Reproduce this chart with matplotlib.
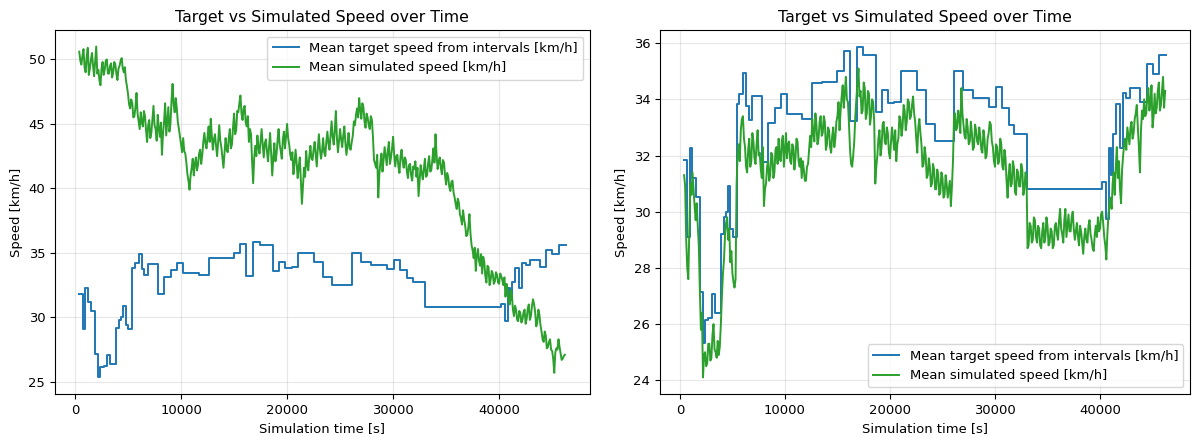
import numpy as np
import matplotlib
matplotlib.use("Agg")
import matplotlib.pyplot as plt

# target speed steps (time [s], value [km/h]) - same in both panels
target_t = [400, 720, 945, 1190, 1510, 1890, 2170, 2390, 2710, 3020,
            3340, 3880, 4190, 4350, 4540, 4790, 5040, 5390, 5670, 5990,
            6300, 6550, 6870, 7810, 8380, 9010, 9610, 10180, 11660, 12600,
            13490, 15000, 15600, 16170, 16830, 17430, 18630, 19220, 19790, 20420,
            21050, 22530, 23420, 24270, 26100, 26980, 27920, 29470, 30070, 30670,
            31300, 31830, 33030, 40190, 40530, 40810, 41070, 41230, 41480, 41900,
            42170, 42490, 42870, 43810, 44440, 45010, 45640, 46270]
target_v = [31.83, 29.09, 32.25, 31.20, 30.53, 27.13, 25.34, 26.15, 26.20, 27.07,
            26.39, 29.21, 29.81, 30.00, 30.91, 29.39, 29.09, 33.83, 34.18, 34.93,
            33.77, 33.25, 34.12, 31.78, 33.14, 33.68, 34.19, 33.47, 33.29, 34.57,
            34.60, 35.01, 35.72, 33.22, 35.88, 35.58, 33.56, 34.33, 33.86, 33.90,
            35.01, 34.33, 33.11, 32.51, 35.01, 34.33, 34.06, 33.74, 34.45, 33.70,
            33.08, 32.76, 30.80, 31.06, 29.73, 32.27, 31.32, 32.75, 33.82, 32.27,
            34.21, 34.04, 34.41, 33.91, 35.25, 34.89, 35.58, 35.58]

# simulated speed, sampled every 100 s starting at 400 s (one row = 2000 s)
sim_t0 = 400
sim_dt = 100

# left panel run
sim_left = [
    50.6, 49.9, 49.6, 50.3, 50.8, 49.4, 49.0, 50.2, 50.9, 48.8, 49.3, 50.0, 50.5, 49.5, 48.7, 49.9, 51.0, 48.9, 49.2, 48.4,  # 400
    48.0, 49.3, 49.8, 48.8, 49.2, 49.9, 50.0, 48.9, 48.9, 49.5, 49.7, 48.6, 49.0, 49.8, 49.6, 48.9, 48.4, 49.3, 49.5, 49.9,  # 2400
    50.1, 49.3, 49.0, 49.4, 48.4, 47.9, 47.3, 46.5, 46.2, 46.9, 46.6, 45.5, 45.6, 46.3, 47.4, 45.8, 45.2, 44.6, 45.9, 45.1,  # 4400
    44.8, 46.0, 45.6, 44.5, 43.6, 44.9, 45.3, 43.9, 44.3, 45.4, 46.4, 44.9, 44.6, 43.7, 45.7, 44.6, 44.0, 45.1, 42.6, 44.3,  # 6400
    45.2, 46.6, 44.1, 45.2, 46.3, 44.4, 45.0, 46.8, 48.1, 46.5, 45.9, 47.0, 46.2, 45.1, 44.6, 44.0, 43.4, 42.8, 43.9, 42.9,  # 8400
    42.7, 42.0, 41.1, 40.6, 39.9, 41.0, 41.6, 42.3, 41.0, 41.9, 42.4, 41.4, 41.8, 42.7, 43.0, 41.9, 42.6, 43.6, 44.3, 43.5,  # 10400
    43.1, 44.0, 44.8, 43.6, 45.4, 44.1, 43.0, 43.8, 44.2, 43.3, 42.5, 43.6, 44.9, 43.7, 43.2, 42.4, 41.6, 42.7, 43.9, 43.0,  # 12400
    42.8, 43.9, 44.6, 43.1, 43.4, 44.7, 45.8, 44.2, 44.5, 46.0, 45.9, 46.6, 47.2, 45.8, 45.3, 46.2, 46.4, 45.1, 44.8, 45.6,  # 14400
    43.6, 44.6, 44.2, 42.1, 40.4, 42.4, 43.3, 42.5, 44.1, 43.2, 42.7, 43.7, 44.6, 43.4, 42.4, 43.5, 43.8, 42.9, 42.1, 43.2,  # 16400
    44.3, 42.7, 41.0, 42.4, 43.5, 42.1, 42.6, 43.7, 44.6, 43.4, 42.9, 42.3, 43.8, 44.4, 43.1, 44.0, 45.0, 43.9, 43.4, 42.6,  # 18400
    42.2, 42.8, 41.1, 41.9, 43.0, 42.0, 40.8, 41.7, 42.4, 40.6, 38.8, 40.2, 41.6, 40.9, 42.9, 41.8, 41.4, 42.5, 43.3, 42.3,  # 20400
    42.2, 43.0, 43.6, 42.6, 41.7, 43.1, 44.2, 43.0, 42.3, 42.9, 43.9, 42.8, 42.5, 43.6, 44.4, 43.5, 43.0, 44.1, 45.2, 44.0,  # 22400
    43.4, 44.5, 46.0, 43.9, 42.8, 43.7, 44.6, 43.8, 43.2, 44.1, 44.8, 43.5, 42.6, 43.4, 44.3, 43.1, 43.0, 43.6, 44.1, 45.2,  # 24400
    44.9, 45.7, 46.2, 45.5, 47.0, 46.1, 45.4, 46.6, 46.3, 45.2, 44.7, 45.8, 45.5, 44.9, 44.6, 45.6, 45.3, 44.0, 42.2, 41.9,  # 26400
    41.6, 42.6, 39.3, 41.1, 42.0, 42.7, 41.3, 42.2, 43.2, 42.5, 41.8, 42.9, 43.6, 41.9, 42.4, 43.1, 44.0, 42.6, 41.7, 42.5,  # 28400
    42.6, 41.7, 41.2, 42.5, 43.0, 42.1, 41.6, 42.4, 42.2, 41.3, 40.8, 41.8, 41.9, 41.0, 40.6, 41.7, 41.5, 42.1, 40.9, 41.6,  # 30400
    39.4, 40.6, 41.8, 41.2, 40.7, 41.5, 42.3, 40.9, 41.0, 41.9, 42.5, 41.3, 41.4, 42.2, 43.1, 42.0, 44.2, 42.6, 41.5, 42.1,  # 32400
    42.4, 41.6, 41.1, 42.2, 42.0, 41.0, 40.3, 41.2, 40.9, 40.1, 39.8, 40.5, 40.6, 39.7, 39.3, 38.8, 38.4, 39.2, 38.9, 38.0,  # 34400
    37.7, 37.2, 38.3, 37.6, 37.1, 36.3, 36.4, 37.0, 38.0, 36.5, 35.6, 35.2, 34.6, 35.4, 33.6, 34.8, 35.3, 34.4, 34.0, 34.9,  # 36400
    33.4, 34.7, 34.3, 33.2, 32.7, 34.0, 33.9, 32.5, 32.9, 33.6, 33.4, 32.6, 32.8, 33.5, 33.3, 32.7, 32.6, 33.4, 33.2, 32.9,  # 38400
    32.5, 33.1, 31.6, 32.6, 32.2, 31.3, 31.0, 32.1, 31.8, 30.6, 30.1, 30.9, 30.6, 29.8, 29.7, 30.5, 30.3, 29.6, 29.8, 30.4,  # 40400
    30.6, 29.5, 29.9, 30.7, 31.0, 29.8, 30.1, 30.9, 31.4, 31.0, 30.4, 29.3, 29.6, 30.6, 30.2, 29.4, 28.9, 28.3, 28.1, 28.9,  # 42400
    28.6, 27.6, 27.7, 28.1, 28.3, 27.5, 27.4, 26.8, 25.7, 27.3, 27.6, 27.5, 28.3, 27.7, 27.2, 26.7, 26.8, 27.0, 27.1,        # 44400
]

# right panel run
sim_right = [
    31.3, 30.9, 29.0, 28.0, 27.6, 29.4, 31.0, 30.6, 31.4, 30.8, 30.2, 29.7, 30.3, 29.5, 28.8, 27.2, 25.8, 26.4, 24.1, 24.9,  # 400
    25.0, 24.5, 24.6, 25.3, 25.3, 24.7, 24.8, 25.6, 26.0, 25.1, 25.0, 24.8, 25.4, 24.9, 25.2, 26.0, 27.0, 27.8, 28.3, 29.2,  # 2400
    29.6, 29.8, 29.0, 29.4, 28.2, 28.6, 27.8, 27.5, 27.3, 27.6, 31.0, 32.1, 32.4, 31.8, 32.9, 33.3, 33.4, 32.6, 32.3, 31.6,  # 4400
    31.4, 32.2, 32.6, 31.6, 31.8, 32.8, 32.5, 31.9, 31.7, 32.4, 32.9, 32.0, 32.1, 31.5, 31.2, 32.3, 30.2, 30.8, 31.0, 31.6,  # 6400
    31.8, 31.1, 31.3, 32.1, 32.0, 31.2, 31.4, 32.2, 32.3, 31.7, 32.6, 31.9, 31.8, 32.5, 32.7, 31.6, 32.2, 32.8, 31.9, 32.4,  # 8400
    32.5, 31.8, 31.7, 32.4, 32.3, 31.5, 31.9, 32.6, 32.5, 31.8, 31.6, 31.9, 31.2, 31.8, 31.5, 31.1, 31.1, 31.6, 31.7, 32.2,  # 10400
    32.7, 32.3, 33.3, 32.8, 32.5, 33.5, 33.1, 32.4, 32.6, 33.2, 33.4, 32.7, 32.8, 33.4, 33.2, 32.2, 32.4, 33.0, 32.9, 32.3,  # 12400
    32.1, 32.7, 33.0, 32.3, 32.6, 33.2, 33.4, 33.9, 32.9, 33.6, 34.1, 34.5, 33.7, 34.2, 34.8, 34.0, 33.9, 33.1, 32.2, 31.7,  # 14400
    31.6, 32.0, 32.5, 33.4, 34.0, 34.6, 35.1, 34.1, 34.3, 33.5, 33.6, 34.6, 34.4, 33.3, 33.5, 34.3, 34.2, 33.1, 33.4, 34.0,  # 16400
    33.9, 33.2, 31.0, 31.6, 32.0, 32.6, 32.9, 32.0, 32.3, 33.1, 33.2, 32.5, 32.4, 33.0, 32.8, 32.1, 31.9, 32.5, 33.0, 32.6,  # 18400
    32.2, 32.9, 31.8, 32.4, 32.6, 33.4, 33.3, 32.7, 33.0, 33.8, 33.6, 32.9, 33.2, 34.0, 33.9, 33.3, 33.4, 33.8, 34.1, 33.5,  # 20400
    33.2, 32.6, 32.1, 33.0, 33.3, 32.8, 32.4, 31.6, 31.7, 32.3, 32.0, 31.2, 31.3, 31.9, 31.6, 30.9, 31.0, 31.7, 31.5, 30.8,  # 22400
    30.8, 31.5, 31.3, 30.6, 30.7, 31.4, 31.2, 30.5, 30.6, 31.3, 31.0, 30.5, 30.8, 31.1, 30.2, 30.9, 31.8, 33.4, 33.5, 32.9,  # 24400
    33.0, 33.6, 33.3, 32.8, 34.4, 33.5, 33.1, 32.7, 32.6, 33.3, 33.0, 32.4, 32.5, 33.2, 32.8, 32.2, 32.3, 33.1, 32.9, 32.5,  # 26400
    32.4, 33.0, 32.7, 32.2, 32.1, 32.9, 32.6, 31.9, 32.0, 32.6, 32.8, 33.2, 33.1, 32.5, 32.3, 31.8, 31.6, 32.4, 32.3, 31.7,  # 28400
    31.8, 32.6, 32.4, 31.6, 31.5, 32.2, 31.9, 31.1, 30.5, 31.3, 31.7, 30.9, 31.0, 31.8, 31.6, 30.7, 30.6, 31.5, 31.4, 30.9,  # 30400
    30.9, 31.7, 31.5, 30.6, 30.8, 31.4, 31.3, 28.7, 28.8, 29.6, 29.5, 28.9, 29.0, 29.8, 29.7, 29.1, 28.9, 29.5, 29.4, 28.8,  # 32400
    28.7, 29.3, 29.6, 28.9, 29.1, 29.8, 29.5, 28.8, 28.9, 29.4, 29.3, 28.7, 28.8, 29.5, 29.6, 29.2, 29.0, 29.7, 30.1, 29.4,  # 34400
    29.2, 28.9, 29.7, 30.1, 29.1, 29.5, 29.9, 29.3, 29.3, 29.8, 30.0, 29.4, 29.0, 29.3, 29.6, 29.1, 28.8, 29.5, 29.3, 28.9,  # 36400
    28.5, 29.1, 29.4, 29.0, 28.9, 29.5, 29.7, 29.2, 29.0, 28.7, 28.6, 29.2, 29.5, 29.1, 29.8, 29.3, 29.4, 29.9, 30.0, 29.6,  # 38400
    29.1, 28.8, 28.3, 29.2, 29.9, 30.3, 30.5, 30.1, 31.0, 31.4, 30.6, 31.6, 32.3, 31.2, 31.8, 30.8, 30.3, 31.5, 32.0, 32.4,  # 40400
    32.6, 32.2, 33.0, 32.7, 32.4, 33.0, 33.2, 32.6, 32.8, 33.3, 33.5, 33.8, 33.0, 32.3, 31.4, 32.9, 33.6, 33.3, 34.0, 33.4,  # 42400
    33.5, 34.1, 34.4, 33.6, 33.9, 34.5, 33.0, 33.4, 34.2, 33.5, 33.7, 34.3, 34.6, 33.6, 33.8, 34.3, 34.8, 33.7, 34.3,        # 44400
]

TITLE = "Target vs Simulated Speed over Time"
LBL_TARGET = "Mean target speed from intervals [km/h]"
LBL_SIM = "Mean simulated speed [km/h]"

plt.rcParams["font.size"] = 9.45

fig = plt.figure(figsize=(11.92, 4.37), dpi=100)
ax_l = fig.add_axes([0.0461, 0.0984, 0.4488, 0.833])
ax_r = fig.add_axes([0.5537, 0.0984, 0.4446, 0.833])

for ax, sim, loc in [(ax_l, sim_left, "upper right"), (ax_r, sim_right, "lower right")]:
    t_sim = sim_t0 + sim_dt * np.arange(len(sim))
    ax.plot(target_t, target_v, drawstyle="steps-post", color="tab:blue",
            lw=1.4, label=LBL_TARGET)
    ax.plot(t_sim, sim, color="tab:green", lw=1.4, label=LBL_SIM)
    ax.set_title(TITLE)
    ax.set_xlabel("Simulation time [s]")
    ax.set_ylabel("Speed [km/h]")
    ax.grid(True, alpha=0.3)
    ax.legend(loc=loc)

fig.savefig("out.png", dpi=100)
